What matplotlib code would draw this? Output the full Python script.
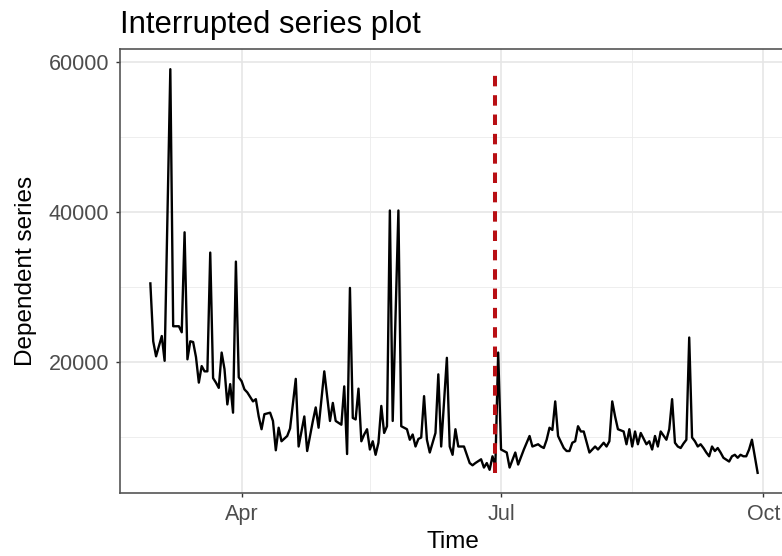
import matplotlib
matplotlib.use("Agg")
import matplotlib.pyplot as plt
import matplotlib.dates as mdates
import numpy as np
import pandas as pd

# daily observations, day number counted from start_date
start_date = "2020-02-29"
day = [0, 1, 2, 4, 5, 7, 8, 10, 11, 12, 13, 14, 15, 16, 17, 18, 19, 20, 21, 22,
       23, 24, 25, 26, 27, 28, 29, 30, 31, 32, 33, 34, 36, 37, 38, 39, 40, 42, 43, 44,
       45, 46, 48, 49, 51, 52, 54, 55, 57, 58, 59, 61, 63, 64, 65, 67, 68, 69, 70, 71,
       72, 73, 74, 75, 76, 77, 78, 79, 80, 81, 82, 83, 84, 85, 87, 88, 90, 91, 92, 93,
       94, 95, 96, 97, 98, 99, 100, 101, 102, 104, 105, 106, 107, 108, 110, 111, 112, 113, 114, 116,
       117, 118, 119, 120, 121, 122, 123, 125, 126, 128, 129, 131, 132, 133, 134, 136, 137, 138, 139, 140,
       141, 142, 143, 145, 146, 147, 148, 149, 150, 151, 152, 154, 155, 156, 157, 159, 160, 161, 162, 163,
       164, 166, 167, 168, 169, 170, 171, 172, 174, 175, 176, 177, 178, 179, 181, 182, 183, 184, 185, 186,
       187, 188, 189, 190, 191, 192, 193, 194, 195, 196, 197, 198, 199, 200, 201, 203, 204, 205, 206, 207,
       208, 209, 210, 211, 212, 213]
series = [30500, 22800, 20800, 23500, 20200, 59000, 24800, 24800, 24000, 37300, 20400, 22800, 22700, 20700, 17300, 19500, 18800, 18800, 34600, 17900,
          17300, 16600, 21300, 19100, 14400, 17100, 13300, 33400, 18000, 17500, 16400, 16000, 14800, 15100, 12800, 11100, 13100, 13300, 12200, 8300,
          11300, 9500, 10200, 11200, 17800, 8800, 12800, 8200, 12200, 14000, 11300, 18800, 12200, 14600, 12200, 11700, 16800, 7800, 29900, 12600,
          12400, 16500, 9500, 10400, 11100, 8400, 9500, 7700, 9300, 14200, 10600, 11500, 40200, 12200, 40200, 11500, 11100, 9700, 10400, 8800,
          9800, 10000, 15500, 9700, 8000, 9300, 10600, 18400, 8800, 20600, 8800, 7700, 11100, 8800, 8800, 7700, 6600, 6300, 6600, 7100,
          6000, 6600, 5700, 7500, 6200, 21300, 8400, 8000, 6000, 8000, 6400, 8400, 9300, 10200, 8800, 9100, 8800, 8600, 9700, 11300,
          11000, 14800, 10200, 8600, 8200, 8200, 9300, 9500, 11500, 10800, 10800, 8000, 8400, 8800, 8400, 9300, 8800, 9500, 14800, 12800,
          11100, 10800, 9100, 11100, 8800, 10800, 9100, 10600, 9100, 9500, 8400, 10200, 8800, 10800, 9700, 11100, 15100, 9300, 8800, 8600,
          9200, 9700, 23300, 10000, 9500, 8800, 9100, 8600, 8000, 7500, 8800, 8200, 8600, 8000, 7300, 6800, 7500, 7700, 7300, 7700,
          7500, 7500, 8400, 9700, 7500, 5300]
interruption = "2020-06-29"

x_ticks = ["2020-04-01", "2020-07-01", "2020-10-01"]
x_tick_labels = ["Apr", "Jul", "Oct"]
x_minor = ["2020-05-16", "2020-08-16"]
y_ticks = [20000, 40000, 60000]
y_minor = [10000, 30000, 50000]

dates = pd.to_datetime(start_date) + pd.to_timedelta(day, unit="D")

plt.rcParams["font.family"] = ["Liberation Sans", "DejaVu Sans"]

fig = plt.figure(figsize=(7.82, 5.56), dpi=100)
ax = fig.add_axes([120 / 782, 63 / 556, 668 / 782, 444 / 556])

# grid like theme_bw
for v in y_minor:
    ax.axhline(v, color="#EBEBEB", lw=0.6, zorder=0)
for v in y_ticks:
    ax.axhline(v, color="#E6E6E6", lw=1.2, zorder=0)
for d in pd.to_datetime(x_minor):
    ax.axvline(d, color="#EBEBEB", lw=0.6, zorder=0)
for d in pd.to_datetime(x_ticks):
    ax.axvline(d, color="#E6E6E6", lw=1.2, zorder=0)

ax.plot(dates, series, color="black", lw=1.7, zorder=2)

# interruption marker from series min to max
ax.vlines(pd.to_datetime(interruption), min(series), max(series), color="#B80F14",
          lw=2.9, linestyles=(0, (2.6, 2.2)), zorder=3)

# limits with ggplot-style 5% expansion
dnum = mdates.date2num(dates)
xpad = (dnum.max() - dnum.min()) * 0.05
ax.set_xlim(dnum.min() - xpad, dnum.max() + xpad)
ypad = (max(series) - min(series)) * 0.05
ax.set_ylim(min(series) - ypad, max(series) + ypad)

ax.set_xticks(pd.to_datetime(x_ticks))
ax.set_xticklabels(x_tick_labels)
ax.set_yticks(y_ticks)
ax.set_yticklabels([str(v) for v in y_ticks])
ax.tick_params(axis="both", labelsize=15.5, labelcolor="#4D4D4D", color="#333333",
               length=2.9, width=1.0, pad=5)

for s in ax.spines.values():
    s.set_color("#555555")
    s.set_linewidth(1.2)

fig.text(120 / 782, 1 - 33 / 556, "Interrupted series plot", fontsize=22.3,
         ha="left", va="baseline")
fig.text(453 / 782, 1 - 548 / 556, "Time", fontsize=17.5, ha="center", va="baseline")
fig.text(26 / 782, 1 - 271 / 556, "Dependent series", fontsize=17.5, rotation=90,
         ha="center", va="center")

fig.savefig("out.png", dpi=100)
